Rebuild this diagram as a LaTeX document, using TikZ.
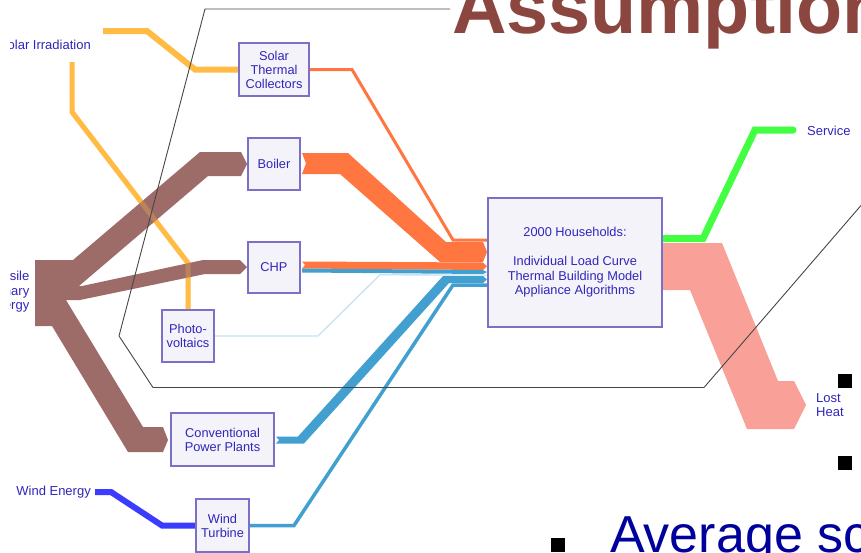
\documentclass[tikz,border=0pt]{standalone}
\usepackage{fontspec}
\setmainfont{Liberation Sans}
\definecolor{txtc}{RGB}{48,38,185}
\definecolor{boxc}{RGB}{122,112,200}
\definecolor{boxf}{RGB}{244,243,250}
\definecolor{brownf}{RGB}{158,108,104}
\definecolor{orangef}{RGB}{255,118,64}
\definecolor{bluef}{RGB}{66,160,208}
\definecolor{lbluef}{RGB}{197,227,242}
\definecolor{yellowf}{RGB}{255,187,68}
\definecolor{windf}{RGB}{60,60,255}
\definecolor{greenf}{RGB}{66,255,66}
\definecolor{salmonf}{RGB}{249,161,152}
\definecolor{titlec}{RGB}{140,70,64}
\definecolor{bodyc}{RGB}{0,0,156}
\definecolor{framec}{RGB}{70,70,70}
\begin{document}
\begin{tikzpicture}[x=1pt,y=-1pt,
  box/.style={draw=boxc, fill=boxf, line width=1.1pt, inner sep=0pt, align=center,
    text=txtc, font=\fontsize{12.8}{14}\selectfont},
  ghost/.style={inner sep=0pt},
  lbl/.style={text=txtc, inner sep=0pt, font=\fontsize{13}{14}\selectfont},
  flow/.style={line join=miter}]
\clip (0,0) rectangle (861,552);
\fill[white] (0,0) rectangle (861,552);

% node frames used as anchors for the flows
\path
  node[ghost, minimum width=70pt, minimum height=53pt] (stc) at (274,69.5) {}
  node[ghost, minimum width=52pt, minimum height=52pt] (boiler) at (274,164) {}
  node[ghost, minimum width=52pt, minimum height=51pt] (chp) at (274,267.5) {}
  node[ghost, minimum width=52pt, minimum height=52pt] (pv) at (188,336) {}
  node[ghost, minimum width=103pt, minimum height=53pt] (cpp) at (222.5,439.5) {}
  node[ghost, minimum width=53pt, minimum height=53pt] (wt) at (222.5,525.5) {}
  node[ghost, minimum width=174pt, minimum height=129pt] (hh) at (575,262.5) {};

% labels at the left edge, cut by the diagram's own frame as in the slide
\begin{scope}
\clip (10,0) rectangle (861,552);
\node[lbl, anchor=east] (solirr) at (91,45) {Solar Irradiation};
\node[lbl, anchor=east, align=right, font=\fontsize{13}{14.5}\selectfont] (fossil) at (29.5,292) {Fossile\\Primary\\Energy};
\end{scope}

% solar irradiation (yellow), under the brown flows
\draw[yellowf, line width=6pt, flow] (103,31) -- (147,31) -- (195,69.5) -- (stc.west);
\draw[yellowf, line width=5pt, flow] (72,62) -- (72,112) -- (188,263) -- (pv.north);

% fossil flows (brown)
\fill[brownf] (35,260) -- (73,260) -- (200,152) -- (241,152) -- (247,164) -- (241,176)
  -- (208,176) -- (79,286) -- (35,286) -- cycle;
\fill[brownf] (35,286) -- (82,286) -- (203,260) -- (240,260) -- (247,267) -- (240,274)
  -- (205,274) -- (80,300) -- (35,300) -- cycle;
\fill[brownf] (35,300) -- (66,300) -- (143,427) -- (163,427) -- (168,440) -- (163,452)
  -- (128,452) -- (52,326) -- (35,326) -- cycle;
% yellow showing through where it crosses the brown
\draw[yellowf, line width=5pt, opacity=0.3, flow] (72,112) -- (188,263) -- (pv.north);

% outputs to households
\draw[orangef, line width=3pt, flow] (stc.east) -- (352,69.5) -- (453,240) -- (487,240);
\fill[orangef] (302,153) -- (348,153) -- (446,242) -- (483,242) -- (487,252) -- (483,262)
  -- (440,262) -- (340,174) -- (302,174) -- (306,163.5) -- cycle;
\fill[orangef] (302,261.5) -- (483,262.5) -- (487,266.2) -- (483,270) -- (302,268.5) -- (305,265) -- cycle;
\fill[bluef] (302,268.5) -- (483,270) -- (487,272) -- (483,274) -- (302,272.5) -- cycle;
\draw[lbluef, line width=1.3pt, flow] (pv.east) -- (318,336) -- (380,274.8) -- (487,275);
\fill[bluef] (276,436.5) -- (298,436.5) -- (443,276) -- (483,276) -- (487,279.5) -- (483,283)
  -- (449,283) -- (304,443.5) -- (276,443.5) -- (279,440) -- cycle;
\draw[bluef, line width=3.5pt, flow] (wt.east) -- (294,525.5) -- (453,285) -- (487,285);

% wind energy
\node[lbl, anchor=east] (windE) at (91,492) {Wind Energy};
\draw[windf, line width=6pt, flow] (95,492) -- (111,492) -- (162,525.5) -- (wt.west);

% outputs of households
\draw[greenf, line width=7pt, flow] (662,238.5) -- (703,238.5) -- (755,130) -- (793,130);
\fill[greenf] (793,130) circle (3.5pt);
\fill[salmonf] (662,243) -- (722,243) -- (778,381) -- (794,381) -- (806,405) -- (794,429)
  -- (747,429) -- (690,290) -- (662,290) -- cycle;
\node[lbl, anchor=west] (service) at (807,131) {Service};
\node[lbl, anchor=west, align=left] (lost) at (816,405) {Lost\\Heat};

% boxes on top of the flows
\path
  node[box, minimum width=70pt, minimum height=53pt] (stcB) at (stc) {Solar\\Thermal\\Collectors}
  node[box, minimum width=52pt, minimum height=52pt] (boilerB) at (boiler) {Boiler}
  node[box, minimum width=52pt, minimum height=51pt] (chpB) at (chp) {CHP}
  node[box, minimum width=52pt, minimum height=52pt] (pvB) at (pv) {Photo-\\voltaics}
  node[box, minimum width=103pt, minimum height=53pt] (cppB) at (cpp) {Conventional\\Power Plants}
  node[box, minimum width=53pt, minimum height=53pt] (wtB) at (wt) {Wind\\Turbine}
  node[box, minimum width=174pt, minimum height=129pt, font=\fontsize{12.8}{14.5}\selectfont] (hhB) at (hh)
    {2000 Households:\\[14.5pt]Individual Load Curve\\Thermal Building Model\\Appliance Algorithms};

% frame line
\draw[framec, line width=0.9pt] (450,9) -- (205,9) -- (119,336) -- (153,387.5) -- (704,387.5) -- (870,195);

% slide text
\node[anchor=base west, inner sep=0pt, text=titlec, font=\fontsize{75.5}{80}\selectfont\bfseries] (title) at (452,33) {Assumption};
\node[anchor=base west, inner sep=0pt, text=bodyc, font=\fontsize{52}{60}\selectfont] (avg) at (610,552) {Average sc};
\fill[black] (838,374) rectangle (852,388);
\fill[black] (838,456) rectangle (852,470);
\fill[black] (551,538) rectangle (565,552);
\end{tikzpicture}
\end{document}
